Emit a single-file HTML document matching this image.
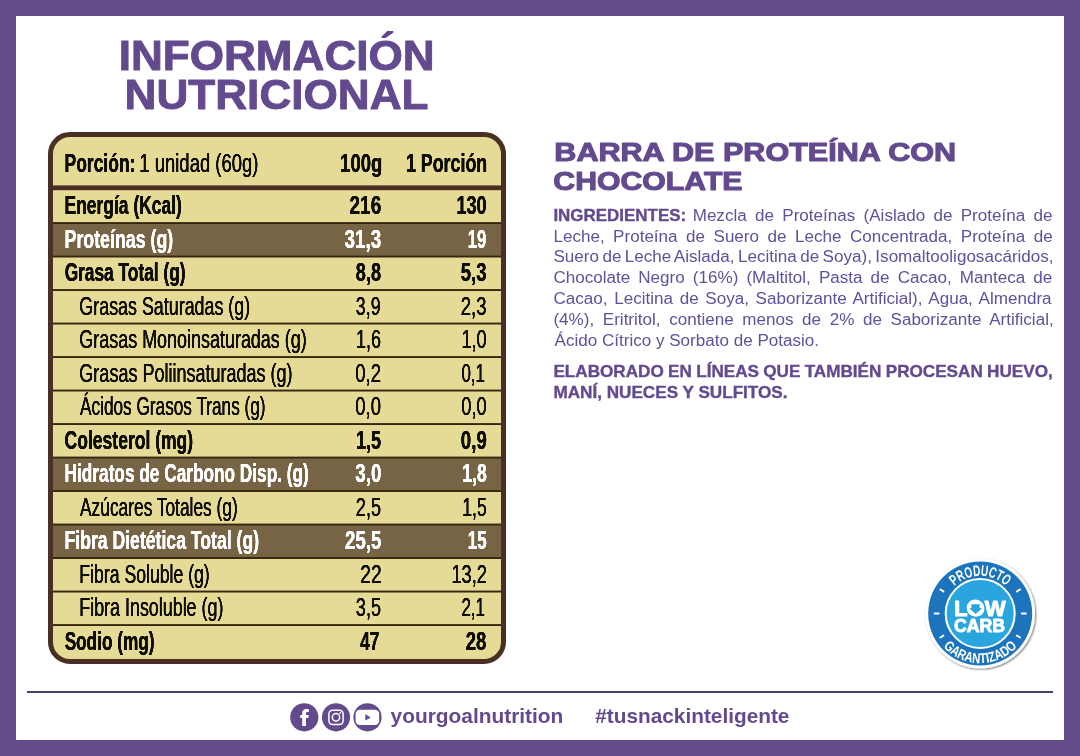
<!DOCTYPE html>
<html lang="es">
<head>
<meta charset="utf-8">
<title>Información Nutricional - Barra de Proteína con Chocolate</title>
<style>
html,body{margin:0;padding:0;background:#634b8c;}
body{width:1080px;height:756px;overflow:hidden;position:relative;}
svg{display:block;position:absolute;left:0;top:0;font-family:"Liberation Sans",sans-serif;}
text{white-space:pre;}
</style>
</head>
<body>
<svg width="1080" height="756" viewBox="0 0 1080 756">
<defs>
<filter id="fat" x="-2%" y="-10%" width="104%" height="120%">
<feOffset in="SourceGraphic" dx="0.35" dy="0" result="a"/>
<feOffset in="SourceGraphic" dx="-0.35" dy="0" result="b"/>
<feMerge><feMergeNode in="a"/><feMergeNode in="b"/><feMergeNode in="SourceGraphic"/></feMerge>
</filter>
</defs>
<rect width="1080" height="756" fill="#634b8c"/>
<rect x="16" y="16" width="1048" height="724" fill="#ffffff"/>
<!-- nutrition table -->
<rect x="50.5" y="134.5" width="453" height="527" rx="19.5" fill="#e5db97" stroke="#4a2f25" stroke-width="5"/>
<rect x="53" y="223.00" width="448" height="33.50" fill="#776445"/>
<rect x="53" y="457.50" width="448" height="33.50" fill="#776445"/>
<rect x="53" y="524.50" width="448" height="33.50" fill="#776445"/>
<rect x="53" y="185.4" width="448" height="4.8" fill="#4a2f25"/>
<rect x="53" y="222.10" width="448" height="1.9" fill="#35270f"/>
<rect x="53" y="255.60" width="448" height="1.9" fill="#35270f"/>
<rect x="53" y="289.10" width="448" height="1.9" fill="#35270f"/>
<rect x="53" y="322.60" width="448" height="1.9" fill="#35270f"/>
<rect x="53" y="356.10" width="448" height="1.9" fill="#35270f"/>
<rect x="53" y="389.60" width="448" height="1.9" fill="#35270f"/>
<rect x="53" y="423.10" width="448" height="1.9" fill="#35270f"/>
<rect x="53" y="456.60" width="448" height="1.9" fill="#35270f"/>
<rect x="53" y="490.10" width="448" height="1.9" fill="#35270f"/>
<rect x="53" y="523.60" width="448" height="1.9" fill="#35270f"/>
<rect x="53" y="557.10" width="448" height="1.9" fill="#35270f"/>
<rect x="53" y="590.60" width="448" height="1.9" fill="#35270f"/>
<rect x="53" y="624.10" width="448" height="1.9" fill="#35270f"/>
<!-- footer -->
<rect x="27" y="691" width="1026" height="2" fill="#4e426c"/>

<g>
<circle cx="304.3" cy="717.3" r="14.1" fill="#634a8d"/>
<path d="M306 725.9v-8h2.3l.5-2.9H306v-1.5c0-1 .4-1.6 1.7-1.6h1.2v-2.8c-.4-.1-1.3-.2-2.4-.2-2.6 0-4.3 1.5-4.3 4.2v1.9h-2v2.9h2v8z" fill="#fff"/>
<circle cx="336" cy="717.3" r="14.1" fill="#634a8d"/>
<rect x="328.9" y="710.2" width="14.2" height="14.2" rx="3.6" fill="none" stroke="#fff" stroke-width="1.5"/>
<circle cx="336" cy="717.3" r="3.7" fill="none" stroke="#fff" stroke-width="1.5"/>
<circle cx="340.3" cy="713" r="0.95" fill="#fff"/>
<circle cx="367.5" cy="717.3" r="14.1" fill="#634a8d"/>
<rect x="355.6" y="709.7" width="23.6" height="15.4" rx="4.2" fill="#fff"/>
<path d="M365.3 714.2l5.6 3.2-5.6 3.2z" fill="#634a8d"/>
</g>
<!-- badge -->

<defs>
<filter id="bsh" x="-20%" y="-20%" width="140%" height="140%"><feGaussianBlur in="SourceAlpha" stdDeviation="1.3"/><feOffset dx="0.8" dy="1.2"/><feComponentTransfer><feFuncA type="linear" slope="0.55"/></feComponentTransfer><feMerge><feMergeNode/><feMergeNode in="SourceGraphic"/></feMerge></filter>
<path id="arcT" d="M 942.50 613.5 A 37.7 37.7 0 0 1 1017.90 613.5"/>
<path id="arcB" d="M 930.50 613.5 A 49.7 49.7 0 0 0 1029.90 613.5"/>
</defs>
<g opacity="0.999">
<circle cx="980.2" cy="613.5" r="54.8" fill="#fff" filter="url(#bsh)"/>
<circle cx="980.2" cy="613.5" r="52" fill="#1c75bc"/>
<circle cx="980.2" cy="613.5" r="34.5" fill="#2aa5de" stroke="#fff" stroke-width="2"/>
<g stroke="#fff" stroke-width="1.9" stroke-linecap="round"><line x1="1021.80" y1="613.50" x2="1025.80" y2="613.50"/><line x1="938.60" y1="613.50" x2="934.60" y2="613.50"/><line x1="1016.97" y1="591.40" x2="1020.06" y2="589.55"/><line x1="943.43" y1="591.40" x2="940.34" y2="589.55"/><line x1="1016.97" y1="635.60" x2="1020.06" y2="637.45"/><line x1="943.43" y1="635.60" x2="940.34" y2="637.45"/></g>
<text font-size="15.2" font-weight="700" fill="#fff" text-anchor="middle"><textPath href="#arcT" startOffset="50%" textLength="57" lengthAdjust="spacingAndGlyphs">PRODUCTO</textPath></text>
<text font-size="14.2" font-weight="700" fill="#fff" text-anchor="middle"><textPath href="#arcB" startOffset="50%" textLength="83.5" lengthAdjust="spacingAndGlyphs">GARANTIZADO</textPath></text>
<text transform="translate(954.0 616.0) scale(1.0 1)" font-size="22.2" font-weight="700" fill="#fff" stroke="#fff" stroke-width="1.0" stroke-linejoin="round">LOW</text>
<circle cx="975.1" cy="608.1" r="8.5" fill="#fff"/>
<path d="M971.4 604.3h8.3v3.9h2.6l-6.6 5.9-6.5-5.9h2.2z" fill="#2aa5de"/>
<text transform="translate(953.9 632.1) scale(0.955 1)" font-size="18.6" font-weight="700" fill="#fff" stroke="#fff" stroke-width="0.9" stroke-linejoin="round">CARB</text>
</g>
<!-- text -->
<g opacity="0.999">
<text transform="translate(118.68 70.00) scale(1.0602 1)" font-size="41.6" font-weight="700" fill="#634a8e" stroke="#634a8e" stroke-width="0.9" stroke-linejoin="round">INFORMACIÓN</text>
<text transform="translate(124.58 108.90) scale(1.0609 1)" font-size="41.6" font-weight="700" fill="#634a8e" stroke="#634a8e" stroke-width="0.9" stroke-linejoin="round">NUTRICIONAL</text>
<text transform="translate(64.55 171.80) scale(0.6775 1)" font-size="25.8" font-weight="700" fill="#0d0b04" filter="url(#fat)">Porción:</text>
<text transform="translate(139.37 171.80) scale(0.7153 1)" font-size="25.8" font-weight="400" fill="#0d0b04" filter="url(#fat)">1 unidad (60g)</text>
<text transform="translate(340.11 171.80) scale(0.7200 1)" font-size="25.8" font-weight="700" fill="#0d0b04" filter="url(#fat)">100g</text>
<text transform="translate(405.92 171.80) scale(0.6917 1)" font-size="25.8" font-weight="700" fill="#0d0b04" filter="url(#fat)">1 Porción</text>
<text transform="translate(64.55 214.45) scale(0.6765 1)" font-size="25.8" font-weight="700" fill="#0d0b04" filter="url(#fat)">Energía (Kcal)</text>
<text transform="translate(349.57 214.45) scale(0.7341 1)" font-size="25.8" font-weight="700" fill="#0d0b04" filter="url(#fat)">216</text>
<text transform="translate(456.40 214.45) scale(0.7025 1)" font-size="25.8" font-weight="700" fill="#0d0b04" filter="url(#fat)">130</text>
<text transform="translate(64.52 247.95) scale(0.6899 1)" font-size="25.8" font-weight="700" fill="#ffffff" filter="url(#fat)">Proteínas (g)</text>
<text transform="translate(344.57 247.95) scale(0.7312 1)" font-size="25.8" font-weight="700" fill="#ffffff" filter="url(#fat)">31,3</text>
<text transform="translate(467.75 247.95) scale(0.6481 1)" font-size="25.8" font-weight="700" fill="#ffffff" filter="url(#fat)">19</text>
<text transform="translate(64.63 281.45) scale(0.6719 1)" font-size="25.8" font-weight="700" fill="#0d0b04" filter="url(#fat)">Grasa Total (g)</text>
<text transform="translate(355.85 281.45) scale(0.7015 1)" font-size="25.8" font-weight="700" fill="#0d0b04" filter="url(#fat)">8,8</text>
<text transform="translate(460.83 281.45) scale(0.7162 1)" font-size="25.8" font-weight="700" fill="#0d0b04" filter="url(#fat)">5,3</text>
<text transform="translate(79.36 314.95) scale(0.6930 1)" font-size="25.8" font-weight="400" fill="#0d0b04" filter="url(#fat)">Grasas Saturadas (g)</text>
<text transform="translate(355.86 314.95) scale(0.6868 1)" font-size="25.8" font-weight="400" fill="#0d0b04" filter="url(#fat)">3,9</text>
<text transform="translate(460.83 314.95) scale(0.7162 1)" font-size="25.8" font-weight="400" fill="#0d0b04" filter="url(#fat)">2,3</text>
<text transform="translate(79.35 348.45) scale(0.6955 1)" font-size="25.8" font-weight="400" fill="#0d0b04" filter="url(#fat)">Grasas Monoinsaturadas (g)</text>
<text transform="translate(355.90 348.45) scale(0.7000 1)" font-size="25.8" font-weight="400" fill="#0d0b04" filter="url(#fat)">1,6</text>
<text transform="translate(461.38 348.45) scale(0.7076 1)" font-size="25.8" font-weight="400" fill="#0d0b04" filter="url(#fat)">1,0</text>
<text transform="translate(79.35 381.95) scale(0.6983 1)" font-size="25.8" font-weight="400" fill="#0d0b04" filter="url(#fat)">Grasas Poliinsaturadas (g)</text>
<text transform="translate(355.33 381.95) scale(0.7162 1)" font-size="25.8" font-weight="400" fill="#0d0b04" filter="url(#fat)">0,2</text>
<text transform="translate(461.39 381.95) scale(0.6574 1)" font-size="25.8" font-weight="400" fill="#0d0b04" filter="url(#fat)">0,1</text>
<text transform="translate(80.05 415.45) scale(0.6673 1)" font-size="25.8" font-weight="400" fill="#0d0b04" filter="url(#fat)">Ácidos Grasos Trans (g)</text>
<text transform="translate(355.33 415.45) scale(0.7162 1)" font-size="25.8" font-weight="400" fill="#0d0b04" filter="url(#fat)">0,0</text>
<text transform="translate(461.34 415.45) scale(0.7088 1)" font-size="25.8" font-weight="400" fill="#0d0b04" filter="url(#fat)">0,0</text>
<text transform="translate(64.62 448.95) scale(0.6797 1)" font-size="25.8" font-weight="700" fill="#0d0b04" filter="url(#fat)">Colesterol (mg)</text>
<text transform="translate(355.90 448.95) scale(0.7000 1)" font-size="25.8" font-weight="700" fill="#0d0b04" filter="url(#fat)">1,5</text>
<text transform="translate(460.83 448.95) scale(0.7235 1)" font-size="25.8" font-weight="700" fill="#0d0b04" filter="url(#fat)">0,9</text>
<text transform="translate(64.56 482.45) scale(0.6685 1)" font-size="25.8" font-weight="700" fill="#ffffff" filter="url(#fat)">Hidratos de Carbono Disp. (g)</text>
<text transform="translate(355.33 482.45) scale(0.7235 1)" font-size="25.8" font-weight="700" fill="#ffffff" filter="url(#fat)">3,0</text>
<text transform="translate(462.18 482.45) scale(0.6848 1)" font-size="25.8" font-weight="700" fill="#ffffff" filter="url(#fat)">1,8</text>
<text transform="translate(80.05 515.95) scale(0.6721 1)" font-size="25.8" font-weight="400" fill="#0d0b04" filter="url(#fat)">Azúcares Totales (g)</text>
<text transform="translate(355.85 515.95) scale(0.7015 1)" font-size="25.8" font-weight="400" fill="#0d0b04" filter="url(#fat)">2,5</text>
<text transform="translate(462.18 515.95) scale(0.6848 1)" font-size="25.8" font-weight="400" fill="#0d0b04" filter="url(#fat)">1,5</text>
<text transform="translate(64.53 549.45) scale(0.6835 1)" font-size="25.8" font-weight="700" fill="#ffffff" filter="url(#fat)">Fibra Dietética Total (g)</text>
<text transform="translate(345.08 549.45) scale(0.7208 1)" font-size="25.8" font-weight="700" fill="#ffffff" filter="url(#fat)">25,5</text>
<text transform="translate(467.73 549.45) scale(0.6577 1)" font-size="25.8" font-weight="700" fill="#ffffff" filter="url(#fat)">15</text>
<text transform="translate(79.28 582.95) scale(0.6845 1)" font-size="25.8" font-weight="400" fill="#0d0b04" filter="url(#fat)">Fibra Soluble (g)</text>
<text transform="translate(360.31 582.95) scale(0.7442 1)" font-size="25.8" font-weight="400" fill="#0d0b04" filter="url(#fat)">22</text>
<text transform="translate(451.38 582.95) scale(0.7096 1)" font-size="25.8" font-weight="400" fill="#0d0b04" filter="url(#fat)">13,2</text>
<text transform="translate(79.26 616.45) scale(0.6936 1)" font-size="25.8" font-weight="400" fill="#0d0b04" filter="url(#fat)">Fibra Insoluble (g)</text>
<text transform="translate(355.85 616.45) scale(0.7015 1)" font-size="25.8" font-weight="400" fill="#0d0b04" filter="url(#fat)">3,5</text>
<text transform="translate(461.39 616.45) scale(0.6574 1)" font-size="25.8" font-weight="400" fill="#0d0b04" filter="url(#fat)">2,1</text>
<text transform="translate(64.63 649.95) scale(0.6674 1)" font-size="25.8" font-weight="700" fill="#0d0b04" filter="url(#fat)">Sodio (mg)</text>
<text transform="translate(360.30 649.95) scale(0.6643 1)" font-size="25.8" font-weight="700" fill="#0d0b04" filter="url(#fat)">47</text>
<text transform="translate(465.83 649.95) scale(0.7167 1)" font-size="25.8" font-weight="700" fill="#0d0b04" filter="url(#fat)">28</text>
<text transform="translate(554.35 161.40) scale(1.1494 1)" font-size="26.6" font-weight="700" fill="#634a8e" stroke="#634a8e" stroke-width="1.1" stroke-linejoin="round">BARRA DE PROTEÍNA CON</text>
<text transform="translate(553.36 190.40) scale(1.1364 1)" font-size="26.6" font-weight="700" fill="#634a8e" stroke="#634a8e" stroke-width="1.1" stroke-linejoin="round">CHOCOLATE</text>
<text transform="translate(553.41 221.20) scale(1.0875 1)" font-size="15.6" font-weight="700" fill="#634a8e" stroke="#634a8e" stroke-width="0.35" stroke-linejoin="round">INGREDIENTES:</text>
<text transform="translate(390.60 723.30) scale(1.0136 1)" font-size="20.6" font-weight="700" fill="#634a8e">yourgoalnutrition</text>
<text transform="translate(595.30 723.20) scale(1.0099 1)" font-size="20.6" font-weight="700" fill="#634a8e">#tusnackinteligente</text>
<text transform="translate(692.67 221.20) scale(1.0799 1)" font-size="15.8" word-spacing="3.290" xml:space="preserve"><tspan font-weight="400" fill="#61509a">Mezcla de Proteínas (Aislado de Proteína de</tspan></text>
<text transform="translate(553.42 241.70) scale(1.0799 1)" font-size="15.8" word-spacing="3.460" xml:space="preserve"><tspan font-weight="400" fill="#61509a">Leche, Proteína de Suero de Leche Concentrada, Proteína de</tspan></text>
<text transform="translate(553.42 262.40) scale(1.0799 1)" font-size="15.8" word-spacing="-1.188" xml:space="preserve"><tspan font-weight="400" fill="#61509a">Suero de Leche Aislada, Lecitina de Soya), Isomaltooligosacáridos,</tspan></text>
<text transform="translate(553.42 283.30) scale(1.0799 1)" font-size="15.8" word-spacing="3.085" xml:space="preserve"><tspan font-weight="400" fill="#61509a">Chocolate Negro (16%) (Maltitol, Pasta de Cacao, Manteca de</tspan></text>
<text transform="translate(553.42 304.10) scale(1.0799 1)" font-size="15.8" word-spacing="1.812" xml:space="preserve"><tspan font-weight="400" fill="#61509a">Cacao, Lecitina de Soya, Saborizante Artificial), Agua, Almendra</tspan></text>
<text transform="translate(553.42 324.90) scale(1.0799 1)" font-size="15.8" word-spacing="3.585" xml:space="preserve"><tspan font-weight="400" fill="#61509a">(4%), Eritritol, contiene menos de 2% de Saborizante Artificial,</tspan></text>
<text transform="translate(554.50 345.70) scale(1.0799 1)" font-size="15.8" word-spacing="0.000" xml:space="preserve"><tspan font-weight="400" fill="#61509a">Ácido Cítrico y Sorbato de Potasio.</tspan></text>
<text transform="translate(553.41 376.75) scale(1.0853 1)" font-size="15.8" word-spacing="-0.432" xml:space="preserve"><tspan font-weight="700" fill="#634a8e" stroke="#634a8e" stroke-width="0.35">ELABORADO EN LÍNEAS QUE TAMBIÉN PROCESAN HUEVO,</tspan></text>
<text transform="translate(553.41 397.50) scale(1.0853 1)" font-size="15.8" word-spacing="0.000" xml:space="preserve"><tspan font-weight="700" fill="#634a8e" stroke="#634a8e" stroke-width="0.35">MANÍ, NUECES Y SULFITOS.</tspan></text>
</g>
</svg>
</body>
</html>
